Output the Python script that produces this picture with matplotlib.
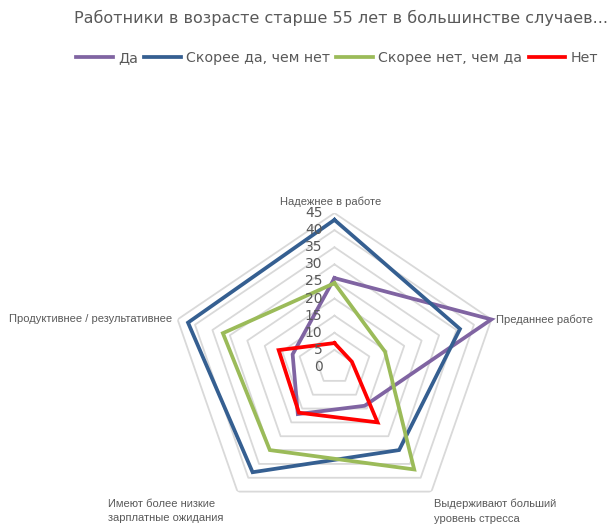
import numpy as np
import matplotlib
matplotlib.use('Agg')
import matplotlib.pyplot as plt
from matplotlib.transforms import offset_copy

# --- Dados ---
titulo = "Работники в возрасте старше 55 лет в большинстве случаев..."
categorias = [
    "Надежнее в работе",
    "Преданнее работе",
    "Выдерживают больший\nуровень стресса",
    "Имеют более низкие\nзарплатные ожидания",
    "Продуктивнее / результативнее",
]
series_nomes = ["Да", "Скорее да, чем нет", "Скорее нет, чем да", "Нет"]
da = [26, 45, 14, 17, 12]
skoree_da = [43, 36, 30, 38, 42]
skoree_net = [24.5, 14.5, 37, 30, 32]
net = [7, 5, 20, 16.5, 16]
niveis = [0, 5, 10, 15, 20, 25, 30, 35, 40, 45]

cores = ["#8064A2", "#355F91", "#9BBB59", "#FF0000"]
cinza_texto = "#595959"
cinza_grade = "#D9D9D9"

fig = plt.figure(figsize=(6.11, 5.29), dpi=100)
ax = fig.add_axes([0.2774, 0.0151, 0.540, 0.5822], projection='polar')
ax.set_aspect('auto')
ax.set_theta_offset(np.pi / 2)
ax.set_theta_direction(-1)

n = len(categorias)
angulos = [2 * np.pi * i / n for i in range(n)]
angulos_fech = angulos + angulos[:1]

# grade pentagonal
for nivel in niveis[1:]:
    ax.plot(angulos_fech, [nivel] * (n + 1), color=cinza_grade, lw=1.3, zorder=1)

for valores, nome, cor in zip([da, skoree_da, skoree_net, net], series_nomes, cores):
    ax.plot(angulos_fech, valores + valores[:1], color=cor, lw=2.7, label=nome,
            zorder=3, clip_on=False, solid_joinstyle='miter')

ax.set_ylim(0, 45)
ax.set_yticks([])
ax.set_xticks([])
ax.grid(False)
ax.spines['polar'].set_visible(False)
ax.patch.set_visible(False)

# rótulos do eixo radial
trans_r = offset_copy(ax.transData, fig=fig, x=-12, y=0, units='dots')
for nivel in niveis:
    ax.text(0, nivel, str(nivel), transform=trans_r, ha='right', va='center',
            fontsize=10, color=cinza_texto)

fonte_cat = ['Liberation Sans', 'DejaVu Sans']
cfg = [
    dict(dx=-4, dy=6, ha='center', va='bottom'),
    dict(dx=5, dy=0, ha='left', va='center'),
    dict(dx=3, dy=-7, ha='left', va='top'),
    dict(dx=-14, dy=-7, ha='right', va='top'),
    dict(dx=-5, dy=0, ha='right', va='center'),
]
for ang, cat, c in zip(angulos, categorias, cfg):
    tr = offset_copy(ax.transData, fig=fig, x=c['dx'], y=c['dy'], units='dots')
    ax.text(ang, 45, cat, transform=tr, ha=c['ha'], va=c['va'], multialignment='left',
            fontsize=8, color=cinza_texto, family=fonte_cat, linespacing=1.6)

fig.text(341 / 611, 1 - 18 / 529, titulo, ha='center', va='center',
         fontsize=11.5, color=cinza_texto)

leg = fig.legend(loc='center', bbox_to_anchor=(337 / 611, 1 - 58 / 529), ncol=4,
                 frameon=False, fontsize=10.2, handlelength=2.6, handletextpad=0.35,
                 columnspacing=0.45, borderaxespad=0)
for t in leg.get_texts():
    t.set_color(cinza_texto)

fig.savefig('out.png', dpi=100)
